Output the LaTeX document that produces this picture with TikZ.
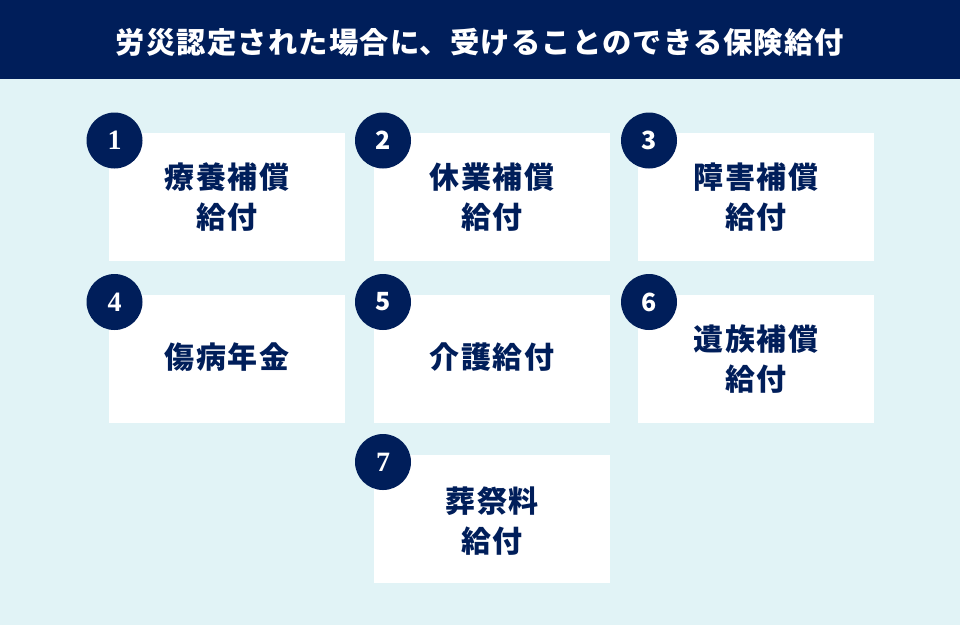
\documentclass[tikz,border=0pt]{standalone}
\usepackage{fontspec}
\newfontfamily\jp[LetterSpace=5]{Noto Sans CJK JP}
\newfontfamily\jpt[LetterSpace=4]{Noto Sans CJK JP}
\newfontfamily\numsans{Noto Sans CJK JP}
\newfontfamily\numserif{Liberation Serif}
\definecolor{navy}{HTML}{001E5A}
\definecolor{bgblue}{HTML}{E1F3F6}
\tikzset{
  card/.style={fill=white, draw=none, minimum width=236pt, minimum height=128pt, anchor=north west, inner sep=0pt},
  cardtext/.style={text=navy, font=\jp\bfseries\fontsize{30}{40}\selectfont, align=center, inner sep=0pt},
  badge/.style={circle, fill=navy, minimum size=56pt, inner sep=0pt, text=white},
  sansnum/.style={font=\numsans\bfseries\fontsize{25}{25}\selectfont},
  serifnum/.style={font=\numserif\bfseries\fontsize{28}{28}\selectfont},
}
\begin{document}
\begin{tikzpicture}[x=1pt,y=-1pt]
\useasboundingbox (0,0) rectangle (960,625);
\fill[bgblue] (0,0) rectangle (960,625);
\fill[navy] (0,0) rectangle (960,79);
\node[text=white, font=\jpt\bfseries\fontsize{29.3}{30}\selectfont, inner sep=0pt] (title) at (480,42) {労災認定された場合に、受けることのできる保険給付};

\node[card] (b1) at (109,133) {};
\node[card] (b2) at (374,133) {};
\node[card] (b3) at (638,133) {};
\node[card] (b4) at (109,295) {};
\node[card] (b5) at (374,295) {};
\node[card] (b6) at (638,295) {};
\node[card] (b7) at (374,455) {};

\node[cardtext] (t1) at (b1.center) {療養補償\\給付};
\node[cardtext] (t2) at (b2.center) {休業補償\\給付};
\node[cardtext] (t3) at (b3.center) {障害補償\\給付};
\node[cardtext] (t4) at ([yshift=2pt]b4.center) {傷病年金};
\node[cardtext] (t5) at ([yshift=2pt]b5.center) {介護給付};
\node[cardtext] (t6) at (b6.center) {遺族補償\\給付};
\node[cardtext] (t7) at ([yshift=-2pt]b7.center) {葬祭料\\給付};

\node[badge, serifnum] (n1) at (114.5,140.5) {1};
\node[badge, sansnum] (n2) at (383,140.5) {2};
\node[badge, sansnum] (n3) at (649,140.5) {3};
\node[badge, serifnum] (n4) at (114.5,302) {4};
\node[badge, sansnum] (n5) at (383,302) {5};
\node[badge, sansnum] (n6) at (649,302) {6};
\node[badge, serifnum] (n7) at (383,462) {7};
\end{tikzpicture}
\end{document}
